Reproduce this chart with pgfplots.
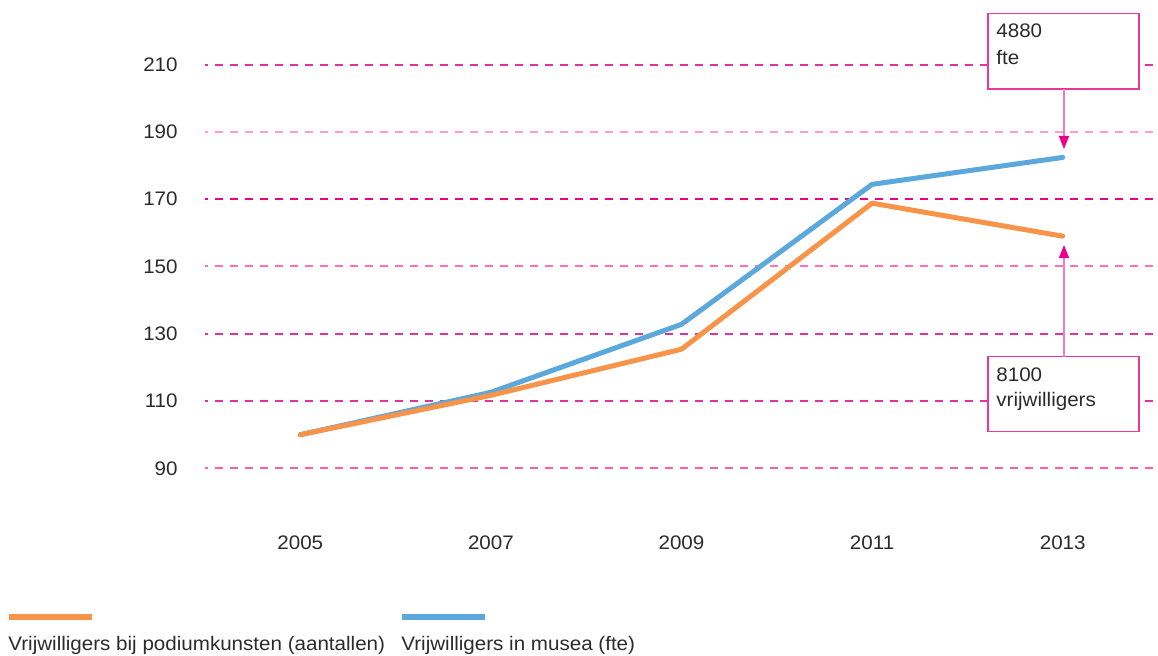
\documentclass[border=0pt]{standalone}
\usepackage{pgfplots}
\pgfplotsset{compat=1.18}
\usepackage{fontspec}
\setmainfont{Liberation Sans}[FakeStretch=1.05]
\usetikzlibrary{arrows.meta}
\definecolor{orng}{HTML}{F7944A}
\definecolor{blu}{HTML}{5BA8DC}
\definecolor{magA}{HTML}{E0349C}
\definecolor{magB}{HTML}{FF9CD2}
\definecolor{magC}{HTML}{E8008C}
\definecolor{magD}{HTML}{FF70BC}
\definecolor{magE}{HTML}{FF5CB4}
\definecolor{txt}{HTML}{2B2B2B}
\definecolor{boxc}{HTML}{E8399B}
\definecolor{arrl}{HTML}{F27CC2}
\newcommand{\px}[2]{({(#1)*0.5pt},{(655-(#2))*0.5pt})}
\begin{document}
\begin{tikzpicture}[font=\fontsize{9.8}{11.5}\selectfont, text=txt]
\path[use as bounding box] (0,0) rectangle (579pt,327.5pt);
\begin{axis}[
  at={(102.5pt,76.5pt)}, anchor=south west,
  scale only axis, width=476.5pt, height=245.65pt,
  xmin=2004, xmax=2014, ymin=80, ymax=226,
  axis line style={draw=none}, tick style={draw=none},
  xtick={2005,2007,2009,2011,2013},
  xticklabels={2005,2007,2009,2011,2013},
  ytick={90,110,130,150,170,190,210},
  /pgf/number format/assume math mode=true,
  xticklabel style={anchor=center, inner sep=0pt, yshift=-20.5pt, text=txt},
  yticklabel style={anchor=east, inner sep=0pt, xshift=-13.5pt, text=txt},
  clip=false,
]
\draw[magA, line width=1pt, dash pattern=on 4pt off 3.5pt, dash phase=2.5pt] (axis cs:2004,210) -- (axis cs:2014,210);
\draw[magB, line width=1pt, dash pattern=on 4pt off 3.5pt, dash phase=2.5pt] (axis cs:2004,190) -- (axis cs:2014,190);
\draw[magC, line width=1pt, dash pattern=on 4pt off 3.5pt, dash phase=2.5pt] (axis cs:2004,170) -- (axis cs:2014,170);
\draw[magD, line width=1pt, dash pattern=on 4pt off 3.5pt, dash phase=2.5pt] (axis cs:2004,150) -- (axis cs:2014,150);
\draw[magA, line width=1pt, dash pattern=on 4pt off 3.5pt, dash phase=2.5pt] (axis cs:2004,130) -- (axis cs:2014,130);
\draw[magA, line width=1pt, dash pattern=on 4pt off 3.5pt, dash phase=2.5pt] (axis cs:2004,110) -- (axis cs:2014,110);
\draw[magE, line width=1pt, dash pattern=on 4pt off 3.5pt, dash phase=2.5pt] (axis cs:2004,90) -- (axis cs:2014,90);
\addplot[blu, line width=2.5pt, line cap=round, line join=round, mark=none] coordinates {
(2005,100) (2007,112.6) (2009,132.8) (2011,174.4) (2013,182.4)};
\addplot[orng, line width=2.5pt, line cap=round, line join=round, mark=none] coordinates {
(2005,100) (2007,111.7) (2009,125.4) (2011,168.8) (2013,159.0)};
\end{axis}
% annotation boxes
\draw[boxc, line width=0.6pt, fill=white] \px{988}{13.5} rectangle \px{1139}{89};
\node[anchor=base west, inner sep=0pt] at \px{996}{37.7} {4880};
\node[anchor=base west, inner sep=0pt] at \px{996}{65} {fte};
\draw[arrl, line width=0.6pt, -{Triangle[length=6.5pt,width=5pt,color=magC]}] \px{1064}{89} -- \px{1064}{149};
\draw[boxc, line width=0.6pt, fill=white] \px{988}{356.5} rectangle \px{1139}{431.5};
\node[anchor=base west, inner sep=0pt] at \px{996}{381} {8100};
\node[anchor=base west, inner sep=0pt] at \px{996}{406} {vrijwilligers};
\draw[arrl, line width=0.6pt, -{Triangle[length=6.5pt,width=5pt,color=magC]}] \px{1064}{356.5} -- \px{1064}{245};
% legend
\draw[orng, line width=3pt] \px{9}{617} -- \px{92}{617};
\draw[blu, line width=3pt] \px{402}{617} -- \px{485}{617};
\node[anchor=base west, inner sep=0pt] at \px{8}{650} {Vrijwilligers bij podiumkunsten (aantallen)};
\node[anchor=base west, inner sep=0pt] at \px{401}{650} {Vrijwilligers in musea (fte)};
\end{tikzpicture}
\end{document}
